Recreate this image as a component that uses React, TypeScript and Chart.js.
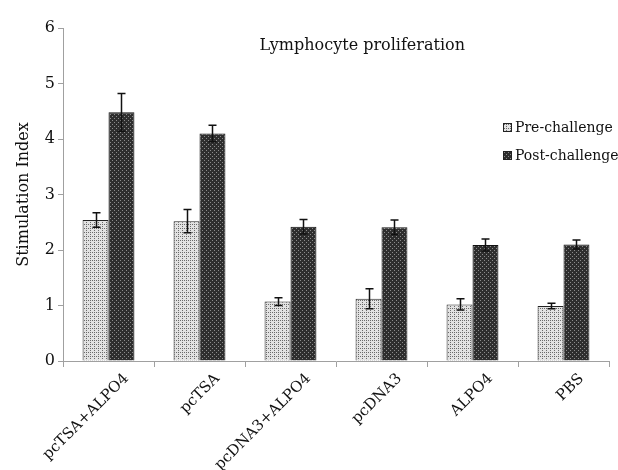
import { useEffect, useRef } from 'react';
import { Chart, registerables } from 'chart.js';

Chart.register(...registerables);

const categories = ['pcTSA+ALPO4', 'pcTSA', 'pcDNA3+ALPO4', 'pcDNA3', 'ALPO4', 'PBS'];
const preValues = [2.54, 2.52, 1.07, 1.12, 1.02, 0.99];
const preErrors = [0.13, 0.21, 0.07, 0.18, 0.1, 0.05];
const postValues = [4.48, 4.1, 2.42, 2.41, 2.09, 2.1];
const postErrors = [0.34, 0.15, 0.13, 0.13, 0.11, 0.08];
const seriesNames = ['Pre-challenge', 'Post-challenge'];
const chartTitle = 'Lymphocyte proliferation';
const yTitle = 'Stimulation Index';
const yTicks = [0, 1, 2, 3, 4, 5, 6];

const FONT = '"DejaVu Serif", serif';

function makePattern(bg: string, dot: string, dots: number[][]): CanvasPattern {
  const c = document.createElement('canvas');
  c.width = 4;
  c.height = 4;
  const g = c.getContext('2d')!;
  g.fillStyle = bg;
  g.fillRect(0, 0, 4, 4);
  g.fillStyle = dot;
  dots.forEach(([x, y]) => g.fillRect(x, y, 1, 1));
  return g.createPattern(c, 'repeat')!;
}

export default function App() {
  const ref = useRef<HTMLCanvasElement>(null);

  useEffect(() => {
    document.body.style.margin = '0';
    const canvas = ref.current!;
    const prePattern = makePattern('#e2e2e2', '#6a6a6a', [[0, 0], [2, 2], [2, 0]]);
    const postPattern = makePattern('#2e2e2e', '#8c8c8c', [[0, 0], [2, 2]]);
    const patterns = [prePattern, postPattern];
    const errors = [preErrors, postErrors];

    const errorBars = {
      id: 'errorBars',
      afterDatasetsDraw(chart: any) {
        const ctx = chart.ctx;
        const y = chart.scales.y;
        ctx.save();
        ctx.strokeStyle = '#111';
        ctx.lineWidth = 1.5;
        chart.data.datasets.forEach((ds: any, i: number) => {
          const meta = chart.getDatasetMeta(i);
          meta.data.forEach((bar: any, j: number) => {
            const v = ds.data[j];
            const e = errors[i][j];
            const x = Math.round(bar.x) + 0.5;
            const top = y.getPixelForValue(v + e);
            const bot = y.getPixelForValue(v - e);
            ctx.beginPath();
            ctx.moveTo(x, top);
            ctx.lineTo(x, bot);
            ctx.moveTo(x - 4, top);
            ctx.lineTo(x + 4, top);
            ctx.moveTo(x - 4, bot);
            ctx.lineTo(x + 4, bot);
            ctx.stroke();
          });
        });
        ctx.restore();
      },
    };

    const overlay = {
      id: 'overlay',
      afterDraw(chart: any) {
        const ctx = chart.ctx;
        ctx.save();
        ctx.fillStyle = '#111';
        ctx.textBaseline = 'middle';
        ctx.font = `16px ${FONT}`;
        ctx.textAlign = 'right';
        ctx.fillText(chartTitle, 465, 46);
        ctx.textAlign = 'left';
        ctx.font = `14px ${FONT}`;
        const rows = [128, 156];
        rows.forEach((cy, i) => {
          ctx.fillStyle = patterns[i];
          ctx.fillRect(503, cy - 5, 9, 9);
          ctx.strokeStyle = '#222';
          ctx.lineWidth = 1;
          ctx.strokeRect(503.5, cy - 4.5, 8, 8);
          ctx.fillStyle = '#111';
          ctx.fillText(seriesNames[i], 515, cy);
        });
        ctx.restore();
      },
    };

    const chart = new Chart(canvas, {
      type: 'bar',
      data: {
        labels: categories,
        datasets: [
          {
            label: seriesNames[0],
            data: preValues,
            backgroundColor: prePattern,
            borderColor: '#222',
            borderWidth: 1,
          },
          {
            label: seriesNames[1],
            data: postValues,
            backgroundColor: postPattern,
            borderColor: '#111',
            borderWidth: 1,
          },
        ],
      },
      options: {
        animation: false,
        responsive: false,
        devicePixelRatio: 1,
        layout: { padding: { top: 28, right: 9, left: 0, bottom: 0 } },
        datasets: { bar: { categoryPercentage: 0.57, barPercentage: 1 } },
        plugins: {
          legend: { display: false },
          title: { display: false },
          tooltip: { enabled: false },
        },
        scales: {
          x: {
            afterFit: (s: any) => {
              s.height = 109;
            },
            border: { color: '#a0a0a0', width: 1 },
            grid: { offset: true, drawOnChartArea: false, drawTicks: true, tickLength: 6, color: '#a0a0a0' },
            ticks: {
              minRotation: 45,
              maxRotation: 45,
              labelOffset: 18,
              color: '#111',
              font: { family: FONT, size: 15 },
              autoSkip: false,
            },
          },
          y: {
            min: 0,
            max: 6,
            afterFit: (s: any) => {
              s.width = 63;
            },
            afterBuildTicks: (s: any) => {
              s.ticks = yTicks.map((v) => ({ value: v }));
            },
            border: { color: '#a0a0a0', width: 1 },
            grid: { drawOnChartArea: false, drawTicks: true, tickLength: 5, color: '#a0a0a0' },
            ticks: { color: '#111', padding: 3, font: { family: FONT, size: 16 } },
            title: {
              display: true,
              text: yTitle,
              color: '#111',
              font: { family: FONT, size: 16 },
              padding: { top: 14, bottom: 4 },
            },
          },
        },
      },
      plugins: [errorBars, overlay],
    });
    return () => chart.destroy();
  }, []);

  return (
    <div style={{ width: 618, height: 470 }}>
      <canvas ref={ref} width={618} height={470} />
    </div>
  );
}
